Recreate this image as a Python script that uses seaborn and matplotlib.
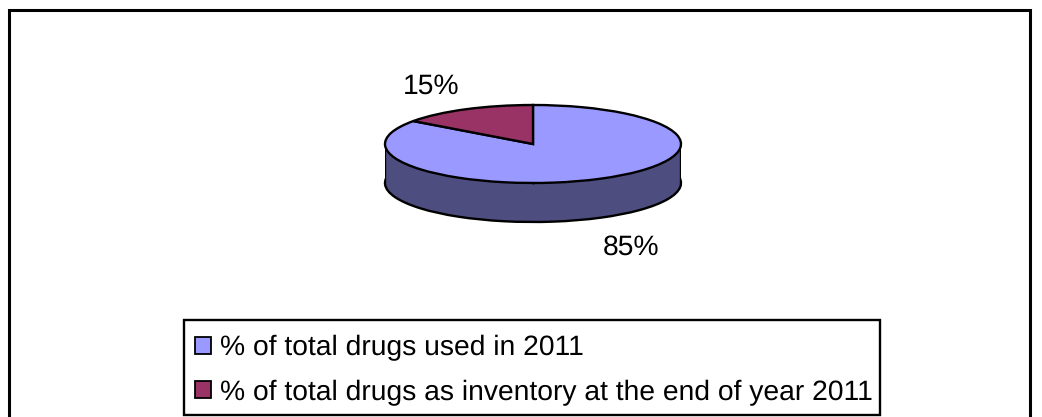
import matplotlib
matplotlib.use("Agg")
import matplotlib.pyplot as plt
from matplotlib.patches import Rectangle
import seaborn as sns

categories = ["% of total drugs used in 2011",
              "% of total drugs as inventory at the end of year 2011"]
values = [85, 15]
top_colors = ["#9999FF", "#993366"]
side_color = "#4D4D80"

sns.set_theme(style="white")
plt.rcParams['font.family'] = ['Liberation Sans', 'DejaVu Sans']
plt.rcParams['text.hinting'] = 'none'

W, H = 1042, 417
fig = plt.figure(figsize=(W / 100, H / 100), dpi=100, facecolor="white")


def fx(px):
    return px / W


def fy(py):
    return 1 - py / H


# chart-area frame, runs off the bottom of the picture
fig.add_artist(Rectangle((fx(8.5), fy(430)), fx(1030 - 8.5), (430 - 9.5) / H,
                         transform=fig.transFigure, fill=False,
                         edgecolor="black", linewidth=2.2))
# legend box
fig.add_artist(Rectangle((fx(183.5), fy(415.3)), (880 - 183.5) / W, (415.3 - 319.5) / H,
                         transform=fig.transFigure, fill=False,
                         edgecolor="black", linewidth=1.7))

ax = fig.add_axes([fx(385), fy(222), (681 - 385) / W, (222 - 105) / H])
edge = dict(edgecolor="black", linewidth=1.7)

# lower disc: extruded side of the pie
ax.pie(values, colors=[side_color, side_color], startangle=144, radius=1,
       center=(0, -1), wedgeprops=dict(zorder=1, **edge))
ax.fill_between([-1, 1], -1, 0, color=side_color, linewidth=0, zorder=2)
ax.vlines([-1, 1], -1, 0, color="black", linewidth=1.7, zorder=3)

# upper disc
wedges, _ = ax.pie(values, colors=top_colors, startangle=144, radius=1,
                   center=(0, 0), wedgeprops=dict(zorder=4, **edge))

ax.set_aspect("auto")
ax.set_xlim(-1, 1)
ax.set_ylim(-2, 1)
ax.axis("off")

label_pos = [(0.66, -2.655), (-0.69, 1.47)]
for v, (x, y) in zip(values, label_pos):
    ax.text(x, y, f"{v}%", ha="center", va="center", fontsize=20.3,
            color="black", clip_on=False)

leg = fig.legend(wedges, categories, loc="lower left",
                 bbox_to_anchor=(fx(183.5), fy(417.5), (880 - 183.5) / W, (417.5 - 319.5) / H),
                 mode="expand", ncol=1, fontsize=20.3, frameon=False,
                 borderaxespad=0, borderpad=0.42, labelspacing=0.65,
                 handlelength=0.56, handleheight=0.56, handletextpad=0.32,
                 labelcolor="black")
for h in leg.get_patches():
    h.set_edgecolor("black")
    h.set_linewidth(1.3)

fig.savefig("out.png", dpi=100)
